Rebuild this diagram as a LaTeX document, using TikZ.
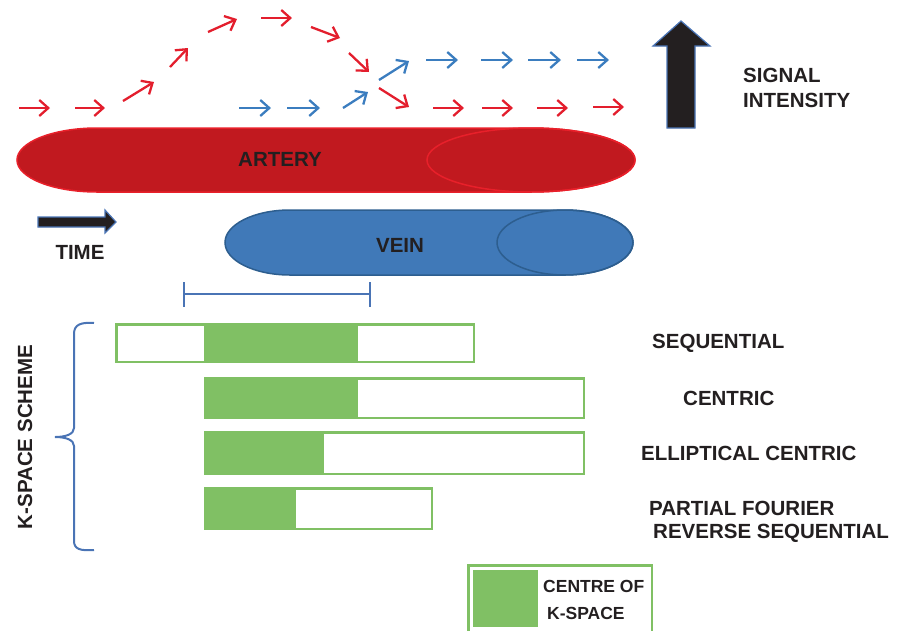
\documentclass[tikz,border=0pt]{standalone}
\usepackage{fontspec}
\setmainfont{Liberation Sans}
\usetikzlibrary{arrows.meta}

\definecolor{arteryred}{HTML}{C1191F}
\definecolor{arteryline}{HTML}{E8202A}
\definecolor{arrowred}{HTML}{E31E2D}
\definecolor{veinblue}{HTML}{4079B8}
\definecolor{veinline}{HTML}{2D5E8F}
\definecolor{arrowblue}{HTML}{3B7DBF}
\definecolor{braceblue}{HTML}{4A74B5}
\definecolor{kgreen}{HTML}{80C064}
\definecolor{txtgray}{HTML}{231F20}

\begin{document}
\begin{tikzpicture}[x=1pt,y=-1pt]
        \tikzstyle{every node}=[font=\bfseries\fontsize{20.5}{24}\selectfont, text=txtgray, inner sep=0pt]
        \tikzstyle{redarr}=[arrowred, line width=2.3pt, -{Straight Barb[length=9pt,width=16pt]}]
        \tikzstyle{bluearr}=[arrowblue, line width=2.3pt, -{Straight Barb[length=9pt,width=16pt]}]
        \tikzstyle{kbar}=[kgreen, line width=2.5pt, fill=white]
        \tikzstyle{kcentre}=[fill=kgreen]
        \tikzstyle{bigarr}=[fill=txtgray, draw=braceblue, line width=1.2pt, line join=miter]

        \useasboundingbox (0,0) rectangle (907,630);
        \clip (0,0) rectangle (907,630);

        % signal arrows
        \foreach \xa/\ya/\xb/\yb in {19/108/50/108, 75/108/105/108, 123/101/154/82, 170/67/188/48,
                208/32/237/19, 261/18/292/18, 311/27/340/38, 349/53/369/72, 379/88/409/107,
                433/108/464/108, 482/108/513/108, 537/108/568/108, 593/107/624/107}
            \draw[redarr] (\xa,\ya) -- (\xb,\yb);
        \foreach \xa/\ya/\xb/\yb in {239/108/271/108, 287/108/320/108, 343/108/368/92, 379/80/409/61,
                426/60/458/60, 481/60/513/60, 528/60/561/60, 577/60/609/60}
            \draw[bluearr] (\xa,\ya) -- (\xb,\yb);

        % artery
        \fill[arteryred] (97,128) arc[start angle=270, end angle=90, x radius=80, y radius=32]
            -- (531,192) arc[start angle=90, end angle=-90, x radius=104, y radius=32] -- cycle;
        \draw[arteryline, line width=1.5pt] (97,128) arc[start angle=270, end angle=90, x radius=80, y radius=32]
            -- (531,192) arc[start angle=90, end angle=-90, x radius=104, y radius=32] -- cycle;
        \draw[arteryline, line width=1.5pt] (531,160) ellipse[x radius=104, y radius=32];
        \node (artery) at (280,159) {ARTERY};

        % vein
        \fill[veinblue] (290,210) arc[start angle=270, end angle=90, x radius=65, y radius=32.5]
            -- (565,275) arc[start angle=90, end angle=-90, x radius=68, y radius=32.5] -- cycle;
        \draw[veinline, line width=1.5pt] (290,210) arc[start angle=270, end angle=90, x radius=65, y radius=32.5]
            -- (565,275) arc[start angle=90, end angle=-90, x radius=68, y radius=32.5] -- cycle;
        \draw[veinline, line width=1.5pt] (565,242.5) ellipse[x radius=68, y radius=32.5];
        \node (vein) at (400,245) {VEIN};

        % time and signal intensity
        \draw[bigarr] (38,217) -- (105,217) -- (105,210) -- (116,222) -- (105,233) -- (105,227) -- (38,227) -- cycle;
        \node (time) at (80,252) {TIME};
        \draw[bigarr] (667,128) -- (667,46) -- (653,46) -- (681,21) -- (710,46) -- (695,46) -- (695,128) -- cycle;
        \node[anchor=west] (signal) at (743,75) {SIGNAL};
        \node[anchor=west] (intensity) at (743,100) {INTENSITY};

        % acquisition window
        \coordinate (winl) at (184,294);
        \coordinate (winr) at (370,294);
        \draw[braceblue, line width=1.5pt] (winl) -- (winr);
        \draw[braceblue, line width=1.5pt] (184,282) -- (184,307);
        \draw[braceblue, line width=1.5pt] (370,282) -- (370,307);

        % k-space schemes
        \draw[kbar] (116.25,324.25) rectangle (473.75,361.75);
        \fill[kcentre] (204,325.5) rectangle (358,360.5);
        \draw[kbar] (205.25,378.25) rectangle (583.75,417.75);
        \fill[kcentre] (204,377) rectangle (358,419);
        \draw[kbar] (205.25,432.25) rectangle (583.75,473.75);
        \fill[kcentre] (204,431) rectangle (324,475);
        \draw[kbar] (205.25,488.25) rectangle (431.75,528.75);
        \fill[kcentre] (204,487) rectangle (296,530);

        \node[anchor=west] (sequential) at (652,343) {SEQUENTIAL};
        \node[anchor=west] (centric) at (683,398) {CENTRIC};
        \node[anchor=west] (elliptical) at (641,453) {ELLIPTICAL CENTRIC};
        \node[anchor=west] (partial) at (649,508) {PARTIAL FOURIER};
        \node[anchor=west] (reverse) at (653,533) {REVERSE SEQUENTIAL};

        % brace
        \draw[braceblue, line width=2pt] (94,323) .. controls (80,322) and (74,325) .. (74,334) -- (74,428)
            .. controls (74,434) and (66,437) .. (55,437) .. controls (66,437) and (74,440) .. (74,446)
            -- (74,541) .. controls (74,549) and (80,551) .. (94,550);
        \node[rotate=90] (kscheme) at (25,437) {K-SPACE SCHEME};

        % legend
        \draw[kbar] (468.25,565.25) rectangle (651.75,640);
        \fill[kcentre] (473,570) rectangle (538,627);
        \node[anchor=west, font=\bfseries\fontsize{17.5}{20}\selectfont] (centreof) at (543,586) {CENTRE OF};
        \node[anchor=west, font=\bfseries\fontsize{17.5}{20}\selectfont] (kspace) at (547,613) {K-SPACE};

    \end{tikzpicture}
\end{document}
